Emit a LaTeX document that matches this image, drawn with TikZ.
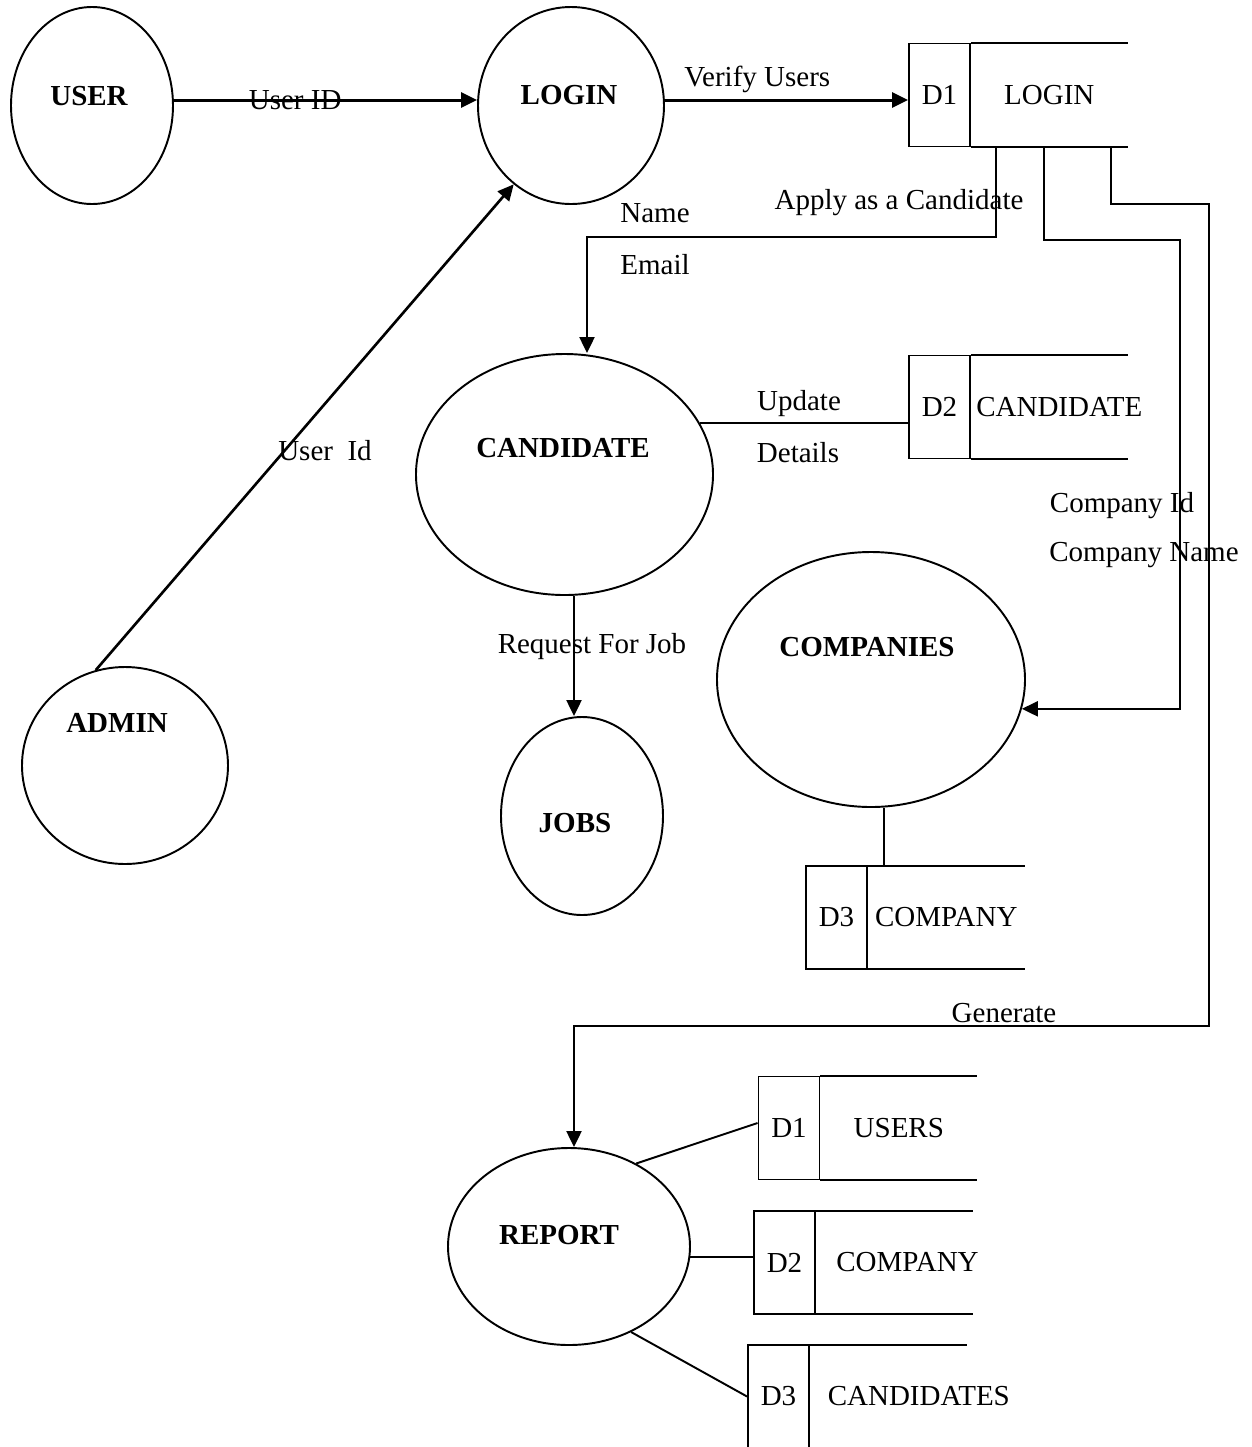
\documentclass[tikz,border=0pt]{standalone}
\usepackage{fontspec}
\setmainfont{Liberation Serif}
\usetikzlibrary{arrows.meta,positioning,shapes.geometric}

\begin{document}
\begin{tikzpicture}
[font=\fontsize{16.5}{20}\selectfont,
% STYLES
% The process style is used to draw the bubbles of the DFD
process/.style={ellipse, draw, line width=1.1pt, inner sep=0pt},
% The procname style is used to write the name of each process
procname/.style={inner sep=1pt, font=\fontsize{16.5}{20}\selectfont\bfseries},
% The storeid and storename styles are used to draw the data stores
storeid/.style={rectangle, draw, line width=1.1pt, minimum width=1.22cm, minimum height=2.06cm, inner sep=0pt},
storename/.style={rectangle, minimum height=2.06cm, text width=2.92cm, inner sep=0.1cm, align=center},
% The flow and link styles are used for the data flows
flow/.style={-{Triangle[length=0.32cm,width=0.3cm]}, line width=1.3pt},
link/.style={line width=1.1pt},
flowlabel/.style={inner sep=1pt}]
\useasboundingbox (0,0) rectangle (25.04,-28.94);
% Draw processes
\node [process, minimum width=3.24cm, minimum height=3.94cm] (user) at (1.84,-2.11) {};
\node [procname] (user-t) at (1.78,-1.92) {USER};
\node [process, minimum width=3.72cm, minimum height=3.94cm] (login) at (11.42,-2.11) {};
\node [procname] (login-t) at (11.38,-1.9) {LOGIN};
\node [process, minimum width=5.94cm, minimum height=4.82cm] (candidate) at (11.29,-9.49) {};
\node [procname] (candidate-t) at (11.26,-8.96) {CANDIDATE};
\node [process, minimum width=3.24cm, minimum height=3.96cm] (jobs) at (11.64,-16.32) {};
\node [procname] (jobs-t) at (11.5,-16.46) {JOBS};
\node [process, minimum width=4.12cm, minimum height=3.94cm] (admin) at (2.5,-15.31) {};
\node [procname] (admin-t) at (2.34,-14.46) {ADMIN};
\node [process, minimum width=6.16cm, minimum height=5.1cm] (companies) at (17.42,-13.59) {};
\node [procname] (companies-t) at (17.34,-12.94) {COMPANIES};
\node [process, minimum width=4.84cm, minimum height=3.94cm] (report) at (11.38,-24.93) {};
\node [procname] (report-t) at (11.18,-24.7) {REPORT};
%%%%%%%%%%%%%%%
% Draw data stores
\node [storeid] (d1) at (18.79,-1.9) {D1};
\node [storename, right=0pt of d1] (d1-name) {LOGIN};
\node [storeid] (d2) at (18.79,-8.14) {D2};
\node [storename, right=0pt of d2] (d2-name) {CANDIDATE};
\node [storeid] (d3) at (16.73,-18.35) {D3};
\node [storename, right=0pt of d3] (d3-name) {COMPANY};
% stores of the report
\node [storeid] (r1) at (15.78,-22.56) {D1};
\node [storename, right=0pt of r1] (r1-name) {USERS};
\node [storeid] (r2) at (15.69,-25.25) {D2};
\node [storename, right=0pt of r2] (r2-name) {\mbox{\hspace*{0.3cm}COMPANY}};
\node [storeid] (r3) at (15.57,-27.93) {D3};
\node [storename, right=0pt of r3] (r3-name) {\mbox{\hspace*{0.25cm}CANDIDATES}};
\foreach \s in {d1-name,d2-name,d3-name,r1-name,r2-name,r3-name}
  \draw [link] (\s.north west) -- (\s.north east) (\s.south west) -- (\s.south east);
%%%%%%%%%%%%%%%
% Draw the links between processes and stores
\coordinate (turn1) at (23.6,0);
\coordinate (turn2) at (24.18,-20.52);
\draw [flow, line width=1.7pt] ([yshift=0.11cm]user.east) -- node [pos=0.4, inner sep=0pt] (flow-userid) {User ID} ([yshift=0.11cm]user.east -| login.west);
\draw [flow, line width=1.7pt] ([yshift=0.11cm]login.east) -- node [pos=0.38, above] (flow-verify) {Verify Users} ([yshift=0.11cm]login.east -| d1.west);
\draw [flow] ([xshift=0.5cm]d1-name.south west) -- ++(0,-1.8) -| ([xshift=0.45cm]candidate.north);
\draw [flow] ([xshift=1.46cm]d1-name.south west) -- ++(0,-1.86) -| (turn1 |- companies.349.4) -- (companies.349.4);
\draw [flow] ([xshift=2.8cm]d1-name.south west) -- ++(0,-1.14) -| (turn2) -| ([xshift=0.1cm]report.north);
\draw [flow, line width=1.5pt] (admin.107) -- (login.234.5);
\draw [flow] ([xshift=0.19cm]candidate.south) -- ([xshift=0.19cm]candidate.south |- jobs.north);
\draw [link] (candidate.21) -- (candidate.21 -| d2.west);
\draw [link] ([xshift=0.26cm]companies.south) -- ([xshift=0.26cm]companies.south |- d3.north);
\draw [link] (report.51.7) -- ([yshift=0.1cm]r1.west);
\draw [link] (report.355) -- (report.355 -| r2.west);
\draw [link] (report.306.7) -- (r3.west);
% Labels of the flows
\node [flowlabel] (flow-apply) at (17.98,-4.06) {Apply as a Candidate};
\node [flowlabel] (flow-name) at (13.1,-4.26) {Name};
\node [flowlabel] (flow-email) at (13.1,-5.3) {Email};
\node [flowlabel] (flow-update) at (15.98,-8.08) {Update};
\node [flowlabel] (flow-details) at (15.96,-9.06) {Details};
\node [flowlabel] (flow-compid) at (22.44,-10.12) {Company Id};
\node [flowlabel] (flow-compname) at (22.88,-11.1) {Company Name};
\node [flowlabel] (flow-adminid) at (6.5,-9.02) {User\ \ Id};
\node [flowlabel] (flow-request) at (11.84,-12.94) {Request For Job};
\node [flowlabel] (flow-generate) at (20.08,-20.26) {Generate};
\end{tikzpicture}
\end{document}
